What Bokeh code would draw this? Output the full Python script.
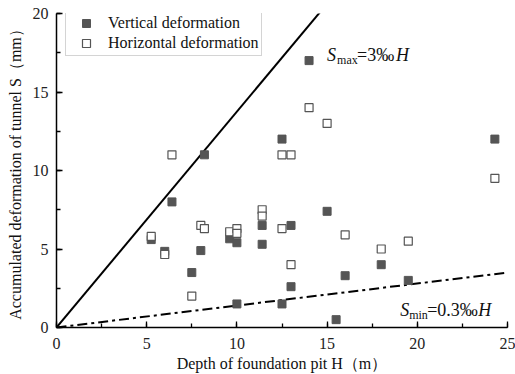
from bokeh.plotting import figure
from bokeh.models import Range1d, SingleIntervalTicker, Label, Legend, LegendItem
from bokeh.embed import file_html
from bokeh.resources import INLINE

# ---- data ----
vert_H = [5.25, 6.0, 6.4, 7.5, 8.0, 8.2, 9.6, 10.0, 10.0, 11.4, 11.4, 12.5, 12.5, 13.0, 13.0, 14.0, 15.0, 15.5, 16.0, 18.0, 19.5, 24.3]
vert_S = [5.6, 4.85, 8.0, 3.5, 4.9, 11.0, 5.65, 5.4, 1.5, 6.5, 5.3, 12.0, 1.5, 6.5, 2.6, 17.0, 7.4, 0.5, 3.3, 4.0, 3.0, 12.0]
hori_H = [5.25, 6.0, 6.4, 7.5, 8.0, 8.2, 9.6, 10.0, 10.0, 11.4, 11.4, 12.5, 13.0, 12.5, 13.0, 14.0, 15.0, 16.0, 18.0, 19.5, 24.3]
hori_S = [5.8, 4.65, 11.0, 2.0, 6.5, 6.3, 6.1, 6.3, 6.0, 7.5, 7.1, 11.0, 11.0, 6.3, 4.0, 14.0, 13.0, 5.9, 5.0, 5.5, 9.5]
line_H = [0, 25]
smax_slope = 1.375
smin_slope = 0.14
smax_S = [h * smax_slope for h in line_H]
smin_S = [h * smin_slope for h in line_H]

FONT = "Liberation Serif"

p = figure(width=515, height=374, output_backend="svg", toolbar_location=None,
           x_range=Range1d(0, 25), y_range=Range1d(0, 20),
           min_border_left=56, min_border_right=8, min_border_top=13, min_border_bottom=45)
p.outline_line_color = None
p.grid.visible = False
p.background_fill_color = "white"

p.line(line_H, smax_S, line_color="black", line_width=2)
p.line(line_H, smin_S, line_color="black", line_width=2, line_dash="10 4 3 4")

r1 = p.scatter(vert_H, vert_S, marker="square", size=8, fill_color="#555555", line_color="#555555")
r2 = p.scatter(hori_H, hori_S, marker="square", size=8, fill_color="white", line_color="#555555", line_width=1.2)

for ax in (p.xaxis[0], p.yaxis[0]):
    ax.ticker = SingleIntervalTicker(interval=5, num_minor_ticks=2)
    ax.axis_line_width = 1.5
    ax.axis_line_color = "black"
    ax.major_tick_in = 6
    ax.major_tick_out = 0
    ax.minor_tick_in = 4
    ax.minor_tick_out = 0
    ax.major_tick_line_width = 1.3
    ax.minor_tick_line_width = 1.3
    ax.major_label_text_font = FONT
    ax.major_label_text_font_size = "16px"
    ax.major_label_text_color = "#222222"
    ax.axis_label_text_font = FONT
    ax.axis_label_text_font_size = "16px"
    ax.axis_label_text_font_style = "normal"
    ax.axis_label_text_color = "#111111"

p.xaxis.axis_label = "Depth of foundation pit H\uff08m\uff09"
p.yaxis.axis_label = "Accumulated deformation of tunnel S\uff08mm\uff09"
p.xaxis.major_label_standoff = 10
p.xaxis.axis_label_standoff = 3
p.yaxis.major_label_standoff = 8
p.yaxis.axis_label_standoff = 6

legend = Legend(items=[LegendItem(label="Vertical deformation", renderers=[r1]),
                       LegendItem(label="Horizontal deformation", renderers=[r2])],
                location=(9, 271), padding=2, spacing=0, margin=0,
                glyph_width=36, glyph_height=20, label_height=20, label_standoff=4,
                label_text_font=FONT, label_text_font_size="16px", label_text_color="#111111",
                border_line_color="#aaaaaa", border_line_width=1, background_fill_alpha=1)
p.add_layout(legend)

def lab(x, y, text, dx, dy, size, style):
    p.add_layout(Label(x=x, y=y, x_units="data", y_units="data", text=text,
                       x_offset=dx, y_offset=dy, text_font=FONT, text_font_size=size,
                       text_font_style=style, text_baseline="alphabetic", text_color="#111111"))

# S_max label
lab(15.0, 17.35, "S", 0, 0, "18px", "italic")
lab(15.0, 17.35, "max", 10, -5, "12px", "normal")
lab(15.0, 17.35, "=3\u2030", 30, 0, "18px", "normal")
lab(15.0, 17.35, "H", 69, 0, "18px", "italic")
# S_min label
lab(19.05, 1.10, "S", 0, 0, "18px", "italic")
lab(19.05, 1.10, "min", 9, -5, "12px", "normal")
lab(19.05, 1.10, "=0.3\u2030", 27, 0, "18px", "normal")
lab(19.05, 1.10, "H", 78, 0, "18px", "italic")

open("out.html", "w").write(file_html(p, INLINE))
